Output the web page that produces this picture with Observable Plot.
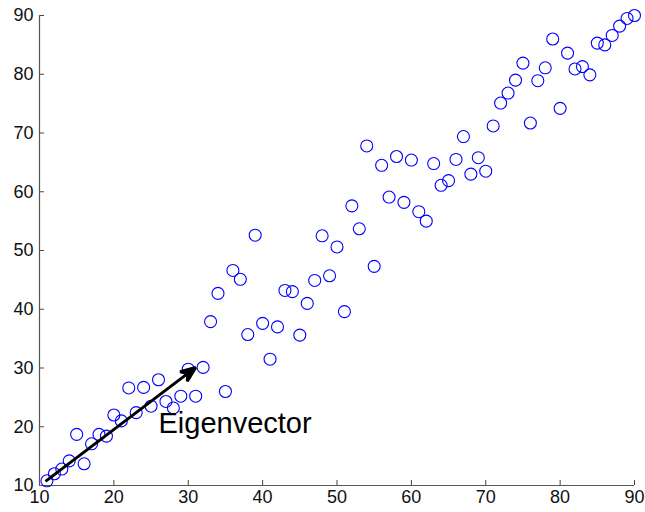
<!DOCTYPE html>
<html>
<head>
<meta charset="utf-8">
<script src="https://cdn.jsdelivr.net/npm/d3@7"></script>
<script src="https://cdn.jsdelivr.net/npm/@observablehq/plot@0.6"></script>
<style>
  html, body { margin: 0; padding: 0; background: #fff; }
  #chart svg { display: block; }
</style>
</head>
<body>
<div id="chart"></div>
<script>
const xValues = [11,12,13,14,15,16,17,18,19,20,21,22,23,24,25,26,27,28,29,30,
  31,32,33,34,35,36,37,38,39,40,41,42,43,44,45,46,47,48,49,50,
  51,52,53,54,55,56,57,58,59,60,61,62,63,64,65,66,67,68,69,70,
  71,72,73,74,75,76,77,78,79,80,81,82,83,84,85,86,87,88,89,90];
const yValues = [10.8,12.0,12.8,14.2,18.7,13.7,17.1,18.7,18.4,22.0,21.0,26.6,22.4,26.7,23.5,28.0,24.3,23.2,25.2,29.8,
  25.2,30.1,37.9,42.7,26.0,46.6,45.1,35.7,52.6,37.6,31.5,37.0,43.2,43.0,35.6,41.0,44.9,52.5,45.7,50.6,
  39.6,57.6,53.7,67.8,47.3,64.5,59.1,66.0,58.2,65.4,56.6,55.0,64.8,61.1,61.9,65.5,69.4,63.0,65.8,63.5,
  71.2,75.1,76.8,79.0,81.9,71.7,78.9,81.1,86.0,74.2,83.6,80.9,81.3,79.9,85.3,85.0,86.6,88.2,89.5,90.0];
const xTicks = [10,20,30,40,50,60,70,80,90];
const yTicks = [10,20,30,40,50,60,70,80,90];
const arrowStart = [10.8, 10.7];
const arrowEnd = [31, 30.1];
const labelText = "Eigenvector";
const labelPos = [26, 20.5];

const points = xValues.map((x, i) => ({x, y: yValues[i]}));
const arrowData = [{x1: arrowStart[0], y1: arrowStart[1], x2: arrowEnd[0], y2: arrowEnd[1]}];

// filled arrow head drawn at the arrow's tip, positioned through the plot's scales
function headRender(index, scales, values, dimensions, context, next) {
  const g = next(index, scales, values, dimensions, context);
  const d = arrowData[0];
  const x1 = scales.x(d.x1), y1 = scales.y(d.y1);
  const x2 = scales.x(d.x2), y2 = scales.y(d.y2);
  const a = Math.atan2(y2 - y1, x2 - x1);
  const L = 15, W = 6, N = 10;
  const ux = Math.cos(a), uy = Math.sin(a), px = -uy, py = ux;
  const bx = x2 - ux * L, by = y2 - uy * L;
  const nx = x2 - ux * N, ny = y2 - uy * N;
  const path = `M${x2},${y2}L${bx + px * W},${by + py * W}L${nx},${ny}L${bx - px * W},${by - py * W}Z`;
  const p = document.createElementNS("http://www.w3.org/2000/svg", "path");
  p.setAttribute("d", path);
  p.setAttribute("fill", "#000");
  g.appendChild(p);
  return g;
}

const chart = Plot.plot({
  width: 645,
  height: 512,
  marginLeft: 39,
  marginRight: 11,
  marginTop: 15,
  marginBottom: 27,
  style: {fontFamily: "'Liberation Sans', Arial, sans-serif", fontSize: "18px", color: "#111", background: "#fff"},
  x: {domain: [10, 90]},
  y: {domain: [10, 90]},
  marks: [
    Plot.axisX({ticks: xTicks, tickSize: -5, tickPadding: 0, tickFormat: () => "", label: null, stroke: "#444"}),
    Plot.axisX({ticks: xTicks, tickSize: 0, tickPadding: 5, label: null, fontSize: 18, fill: "#111"}),
    Plot.axisY({ticks: yTicks, tickSize: -5, tickPadding: 0, tickFormat: () => "", label: null, stroke: "#444"}),
    Plot.axisY({ticks: yTicks, tickSize: 0, tickPadding: 6, label: null, fontSize: 18, fill: "#111"}),
    Plot.ruleX([10], {stroke: "#555", strokeWidth: 1.2}),
    Plot.ruleY([10], {stroke: "#555", strokeWidth: 1.2}),
    Plot.dot(points, {x: "x", y: "y", r: 6, stroke: "#0000ff", strokeWidth: 1.1, fill: "none"}),
    Plot.link(arrowData, {x1: "x1", y1: "y1", x2: (d) => d.x1 + (d.x2 - d.x1) * 0.95, y2: (d) => d.y1 + (d.y2 - d.y1) * 0.95,
      stroke: "#000", strokeWidth: 3, render: headRender}),
    Plot.text([labelText], {x: labelPos[0], y: labelPos[1], text: d => d, textAnchor: "start", fontSize: 29, fill: "#000"})
  ]
});
document.getElementById("chart").appendChild(chart);
</script>
</body>
</html>
